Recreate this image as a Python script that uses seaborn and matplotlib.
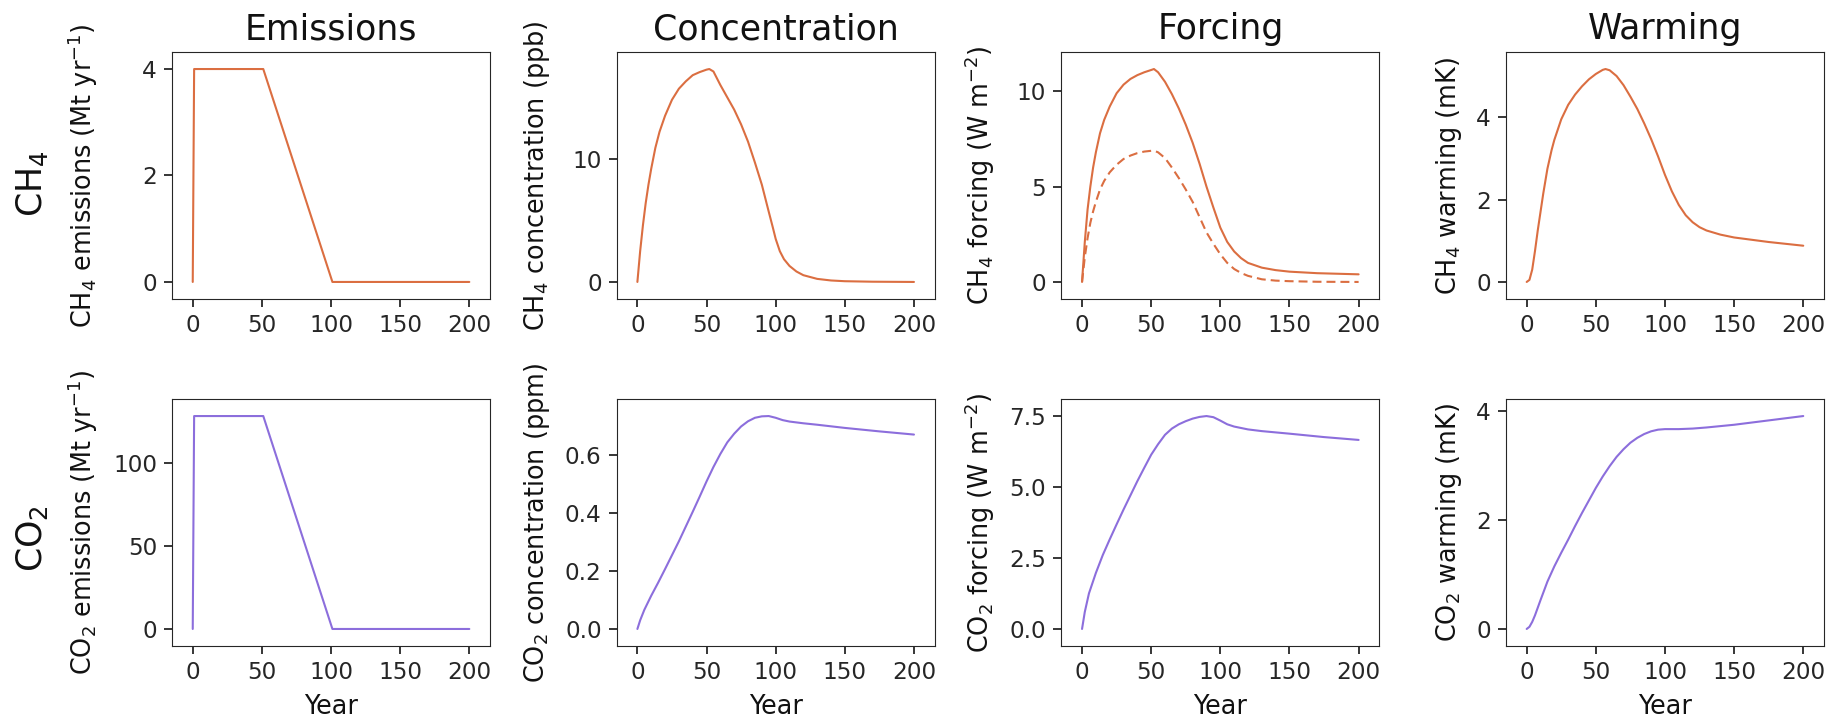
import matplotlib
matplotlib.use("Agg")
import matplotlib.pyplot as plt
import seaborn as sns

# ---- data -------------------------------------------------------------
# emissions pulse: ramp on in year 1, flat to year 51, linear phase-out to year 101
emis_years = [0, 1, 51, 101, 200]
ch4_emissions = [0, 4, 4, 0, 0]
co2_emissions = [0, 128, 128, 0, 0]

ch4_conc_years = [0, 2, 4, 6, 8, 10, 13, 16, 20, 25, 30, 35, 40, 45, 50, 52, 55,
                  60, 65, 70, 75, 80, 85, 90, 95, 98, 100, 103, 106, 110, 115,
                  120, 130, 140, 150, 170, 200]
ch4_conc = [0.0, 2.5, 4.6, 6.4, 7.9, 9.2, 10.9, 12.2, 13.5, 14.8, 15.7, 16.3,
            16.8, 17.05, 17.25, 17.3, 17.1, 16.0, 15.0, 14.0, 12.8, 11.4, 9.7,
            7.9, 5.7, 4.4, 3.5, 2.5, 1.85, 1.3, 0.85, 0.55, 0.25, 0.12, 0.06,
            0.02, 0.0]

ch4_forc_years = [0, 2, 4, 6, 8, 10, 13, 16, 20, 25, 30, 35, 40, 45, 50, 52, 55,
                  60, 65, 70, 75, 80, 85, 90, 95, 100, 105, 110, 115, 120, 130,
                  140, 150, 170, 200]
ch4_forcing = [0.0, 2.1, 3.8, 5.0, 6.0, 6.8, 7.8, 8.5, 9.2, 9.9, 10.35, 10.65,
               10.85, 11.0, 11.12, 11.17, 11.0, 10.5, 9.85, 9.1, 8.25, 7.3, 6.2,
               5.0, 3.9, 2.85, 2.1, 1.6, 1.25, 1.0, 0.75, 0.62, 0.54, 0.46, 0.4]
ch4_forcing_direct = [0.0, 1.3, 2.3, 3.1, 3.7, 4.2, 4.85, 5.3, 5.75, 6.15, 6.45,
                      6.63, 6.76, 6.84, 6.88, 6.89, 6.8, 6.5, 6.0, 5.45, 4.85,
                      4.2, 3.4, 2.6, 2.0, 1.45, 1.0, 0.68, 0.47, 0.32, 0.14,
                      0.07, 0.04, 0.01, 0.0]

ch4_warm_years = [0, 2, 4, 6, 8, 10, 12, 15, 18, 20, 25, 30, 35, 40, 45, 50, 55,
                  57, 60, 65, 70, 75, 80, 85, 90, 95, 100, 105, 110, 115, 120,
                  125, 130, 140, 150, 175, 200]
ch4_warming = [0.0, 0.05, 0.3, 0.75, 1.25, 1.7, 2.15, 2.75, 3.2, 3.45, 3.95, 4.3,
               4.55, 4.75, 4.92, 5.05, 5.15, 5.17, 5.14, 5.0, 4.78, 4.5, 4.2,
               3.85, 3.47, 3.05, 2.6, 2.2, 1.87, 1.62, 1.45, 1.33, 1.25, 1.15,
               1.08, 0.97, 0.88]

co2_conc_years = [0, 2, 5, 10, 15, 20, 25, 30, 35, 40, 45, 50, 55, 60, 65, 70,
                  75, 80, 85, 90, 95, 100, 105, 110, 120, 130, 150, 175, 200]
co2_conc = [0.0, 0.03, 0.066, 0.115, 0.16, 0.207, 0.255, 0.303, 0.354, 0.405,
            0.457, 0.51, 0.56, 0.605, 0.645, 0.675, 0.70, 0.718, 0.73, 0.735,
            0.736, 0.73, 0.722, 0.717, 0.711, 0.706, 0.695, 0.683, 0.672]

co2_forc_years = [0, 2, 5, 10, 15, 20, 25, 30, 35, 40, 45, 50, 55, 60, 65, 70,
                  75, 80, 85, 90, 95, 100, 105, 110, 120, 130, 150, 175, 200]
co2_forcing = [0.0, 0.6, 1.25, 1.97, 2.6, 3.15, 3.68, 4.2, 4.7, 5.2, 5.67, 6.13,
               6.5, 6.83, 7.05, 7.2, 7.31, 7.4, 7.46, 7.49, 7.45, 7.33, 7.2,
               7.12, 7.02, 6.96, 6.87, 6.75, 6.65]

co2_warm_years = [0, 2, 4, 6, 10, 15, 20, 25, 30, 35, 40, 45, 50, 55, 60, 65, 70,
                  75, 80, 85, 90, 95, 100, 110, 120, 130, 150, 175, 200]
co2_warming = [0.0, 0.04, 0.13, 0.25, 0.53, 0.87, 1.15, 1.4, 1.64, 1.89, 2.13,
               2.36, 2.59, 2.8, 2.99, 3.16, 3.3, 3.42, 3.51, 3.58, 3.63, 3.66,
               3.67, 3.67, 3.68, 3.70, 3.75, 3.83, 3.91]

col_titles = ["Emissions", "Concentration", "Forcing", "Warming"]
row_names = ["CH$_4$", "CO$_2$"]
year_ticks = [0, 50, 100, 150, 200]
ch4_yticks = [[0, 2, 4], [0, 10], [0, 5, 10], [0, 2, 4]]
co2_yticks = [[0, 50, 100], [0.0, 0.2, 0.4, 0.6], [0.0, 2.5, 5.0, 7.5], [0, 2, 4]]

ch4_color = "#db6e41"
co2_color = "#8c6edc"

# ---- style ------------------------------------------------------------
sns.set_style("ticks", rc={
    "axes.edgecolor": "#262626",
    "axes.linewidth": 1.3,
    "xtick.color": "#262626",
    "ytick.color": "#262626",
    "text.color": "#111111",
    "axes.labelcolor": "#111111",
})
plt.rcParams["font.family"] = ["DejaVu Sans"]
plt.rcParams["mathtext.fontset"] = "dejavusans"

TICK = 16.7
LABEL = 18.4
TITLE = 25

fig, axes = plt.subplots(2, 4, figsize=(18.39, 7.21), dpi=100)
fig.subplots_adjust(left=172 / 1839, right=1824 / 1839,
                    top=1 - 52 / 721, bottom=1 - 646 / 721,
                    wspace=0.398, hspace=0.405)

rows = [
    dict(color=ch4_color,
         series=[(emis_years, ch4_emissions), (ch4_conc_years, ch4_conc),
                 (ch4_forc_years, ch4_forcing), (ch4_warm_years, ch4_warming)],
         labels=["CH$_4$ emissions (Mt yr$^{-1}$)", "CH$_4$ concentration (ppb)",
                 "CH$_4$ forcing (W m$^{-2}$)", "CH$_4$ warming (mK)"],
         yticks=ch4_yticks),
    dict(color=co2_color,
         series=[(emis_years, co2_emissions), (co2_conc_years, co2_conc),
                 (co2_forc_years, co2_forcing), (co2_warm_years, co2_warming)],
         labels=["CO$_2$ emissions (Mt yr$^{-1}$)", "CO$_2$ concentration (ppm)",
                 "CO$_2$ forcing (W m$^{-2}$)", "CO$_2$ warming (mK)"],
         yticks=co2_yticks),
]

for r, spec in enumerate(rows):
    for c in range(4):
        ax = axes[r, c]
        x, y = spec["series"][c]
        sns.lineplot(x=x, y=y, ax=ax, color=spec["color"], linewidth=1.5)
        if r == 0 and c == 2:
            # direct methane forcing, without indirect contributions
            sns.lineplot(x=ch4_forc_years, y=ch4_forcing_direct, ax=ax,
                         color=spec["color"], linewidth=1.5,
                         linestyle=(0, (4.3, 2.4)))
        ax.margins(x=0.075, y=0.08)
        ax.set_xticks(year_ticks)
        ax.set_yticks(spec["yticks"][c])
        ax.tick_params(length=5.8, width=1.3, pad=5.0, labelsize=TICK)
        ax.set_ylabel(spec["labels"][c], fontsize=LABEL, labelpad=9)
        if r == 1:
            ax.set_xlabel("Year", fontsize=LABEL, labelpad=7)
        else:
            ax.set_xlabel("")
        if r == 0:
            ax.set_title(col_titles[c], fontsize=TITLE, pad=9)

for c in range(4):
    fig.align_ylabels(axes[:, c])

row_centers = [184, 539]
for name, yc in zip(row_names, row_centers):
    fig.text(32 / 1839, 1 - yc / 721, name, rotation=90, ha="center",
             va="center", fontsize=TITLE)

fig.savefig("out.png", dpi=100)
